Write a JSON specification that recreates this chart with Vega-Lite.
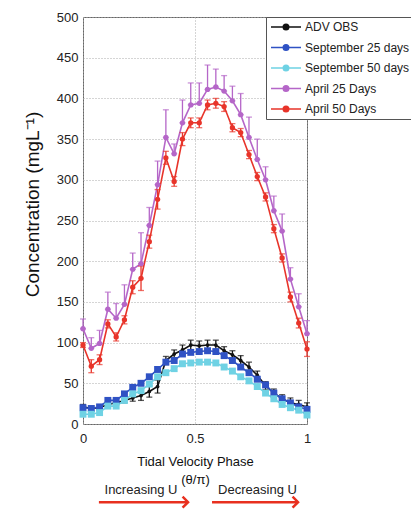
{
  "$schema": "https://vega.github.io/schema/vega-lite/v6.json",
  "width": 224,
  "height": 407,
  "autosize": {"type": "none"},
  "padding": {"left": 83, "top": 17, "right": 104, "bottom": 85},
  "background": "white",
  "config": {
    "font": "Liberation Sans",
    "view": {"stroke": "#666", "strokeWidth": 1},
    "axis": {
      "grid": true, "gridDash": [1, 2], "gridColor": "#aaa", "gridWidth": 1,
      "domain": false, "ticks": false,
      "labelFontSize": 13, "labelColor": "#222",
      "titleFontWeight": "normal", "titleColor": "#111"
    }
  },
  "data": {"values": [
    {"p":0,"s":"ADV OBS","c":21,"lo":18,"hi":24},
    {"p":0.037,"s":"ADV OBS","c":19,"lo":16,"hi":22},
    {"p":0.074,"s":"ADV OBS","c":20,"lo":17,"hi":23},
    {"p":0.111,"s":"ADV OBS","c":24,"lo":21,"hi":27},
    {"p":0.148,"s":"ADV OBS","c":26,"lo":23,"hi":29},
    {"p":0.185,"s":"ADV OBS","c":29,"lo":26,"hi":32},
    {"p":0.222,"s":"ADV OBS","c":32,"lo":28,"hi":36},
    {"p":0.259,"s":"ADV OBS","c":35,"lo":29,"hi":41},
    {"p":0.296,"s":"ADV OBS","c":40,"lo":33,"hi":47},
    {"p":0.333,"s":"ADV OBS","c":46,"lo":38,"hi":54},
    {"p":0.370,"s":"ADV OBS","c":78,"lo":73,"hi":83},
    {"p":0.407,"s":"ADV OBS","c":86,"lo":81,"hi":91},
    {"p":0.444,"s":"ADV OBS","c":91,"lo":85,"hi":97},
    {"p":0.481,"s":"ADV OBS","c":97,"lo":91,"hi":103},
    {"p":0.519,"s":"ADV OBS","c":96,"lo":90,"hi":102},
    {"p":0.556,"s":"ADV OBS","c":97,"lo":91,"hi":103},
    {"p":0.593,"s":"ADV OBS","c":97,"lo":91,"hi":103},
    {"p":0.630,"s":"ADV OBS","c":90,"lo":85,"hi":95},
    {"p":0.667,"s":"ADV OBS","c":85,"lo":80,"hi":90},
    {"p":0.704,"s":"ADV OBS","c":78,"lo":72,"hi":84},
    {"p":0.741,"s":"ADV OBS","c":70,"lo":64,"hi":76},
    {"p":0.778,"s":"ADV OBS","c":60,"lo":55,"hi":65},
    {"p":0.815,"s":"ADV OBS","c":47,"lo":42,"hi":52},
    {"p":0.852,"s":"ADV OBS","c":38,"lo":33,"hi":43},
    {"p":0.889,"s":"ADV OBS","c":31,"lo":26,"hi":36},
    {"p":0.926,"s":"ADV OBS","c":26,"lo":20,"hi":32},
    {"p":0.963,"s":"ADV OBS","c":24,"lo":19,"hi":29},
    {"p":1,"s":"ADV OBS","c":21,"lo":16,"hi":26},
    {"p":0,"s":"September 25 days","c":20},
    {"p":0.037,"s":"September 25 days","c":19},
    {"p":0.074,"s":"September 25 days","c":21},
    {"p":0.111,"s":"September 25 days","c":29},
    {"p":0.148,"s":"September 25 days","c":29},
    {"p":0.185,"s":"September 25 days","c":37},
    {"p":0.222,"s":"September 25 days","c":45},
    {"p":0.259,"s":"September 25 days","c":50},
    {"p":0.296,"s":"September 25 days","c":58},
    {"p":0.333,"s":"September 25 days","c":67},
    {"p":0.370,"s":"September 25 days","c":76},
    {"p":0.407,"s":"September 25 days","c":78},
    {"p":0.444,"s":"September 25 days","c":86},
    {"p":0.481,"s":"September 25 days","c":88},
    {"p":0.519,"s":"September 25 days","c":89},
    {"p":0.556,"s":"September 25 days","c":90},
    {"p":0.593,"s":"September 25 days","c":89},
    {"p":0.630,"s":"September 25 days","c":84},
    {"p":0.667,"s":"September 25 days","c":78},
    {"p":0.704,"s":"September 25 days","c":70},
    {"p":0.741,"s":"September 25 days","c":63},
    {"p":0.778,"s":"September 25 days","c":55},
    {"p":0.815,"s":"September 25 days","c":48},
    {"p":0.852,"s":"September 25 days","c":38},
    {"p":0.889,"s":"September 25 days","c":31},
    {"p":0.926,"s":"September 25 days","c":26},
    {"p":0.963,"s":"September 25 days","c":21},
    {"p":1,"s":"September 25 days","c":18},
    {"p":0,"s":"September 50 days","c":12},
    {"p":0.037,"s":"September 50 days","c":12},
    {"p":0.074,"s":"September 50 days","c":14},
    {"p":0.111,"s":"September 50 days","c":22},
    {"p":0.148,"s":"September 50 days","c":22},
    {"p":0.185,"s":"September 50 days","c":29},
    {"p":0.222,"s":"September 50 days","c":37},
    {"p":0.259,"s":"September 50 days","c":41},
    {"p":0.296,"s":"September 50 days","c":49},
    {"p":0.333,"s":"September 50 days","c":58},
    {"p":0.370,"s":"September 50 days","c":63},
    {"p":0.407,"s":"September 50 days","c":68},
    {"p":0.444,"s":"September 50 days","c":74},
    {"p":0.481,"s":"September 50 days","c":75},
    {"p":0.519,"s":"September 50 days","c":76},
    {"p":0.556,"s":"September 50 days","c":76},
    {"p":0.593,"s":"September 50 days","c":75},
    {"p":0.630,"s":"September 50 days","c":70},
    {"p":0.667,"s":"September 50 days","c":65},
    {"p":0.704,"s":"September 50 days","c":58},
    {"p":0.741,"s":"September 50 days","c":53},
    {"p":0.778,"s":"September 50 days","c":46},
    {"p":0.815,"s":"September 50 days","c":38},
    {"p":0.852,"s":"September 50 days","c":31},
    {"p":0.889,"s":"September 50 days","c":24},
    {"p":0.926,"s":"September 50 days","c":20},
    {"p":0.963,"s":"September 50 days","c":17},
    {"p":1,"s":"September 50 days","c":11},
    {"p":0,"s":"April 25 Days","c":117,"lo":117,"hi":129},
    {"p":0.037,"s":"April 25 Days","c":93,"lo":93,"hi":106},
    {"p":0.074,"s":"April 25 Days","c":99,"lo":99,"hi":115},
    {"p":0.111,"s":"April 25 Days","c":141,"lo":141,"hi":162},
    {"p":0.148,"s":"April 25 Days","c":130,"lo":130,"hi":148},
    {"p":0.185,"s":"April 25 Days","c":147,"lo":147,"hi":171},
    {"p":0.222,"s":"April 25 Days","c":190,"lo":190,"hi":210},
    {"p":0.259,"s":"April 25 Days","c":197,"lo":197,"hi":235},
    {"p":0.296,"s":"April 25 Days","c":244,"lo":244,"hi":266},
    {"p":0.333,"s":"April 25 Days","c":294,"lo":294,"hi":323},
    {"p":0.370,"s":"April 25 Days","c":352,"lo":352,"hi":386},
    {"p":0.407,"s":"April 25 Days","c":332,"lo":332,"hi":344},
    {"p":0.444,"s":"April 25 Days","c":370,"lo":370,"hi":398},
    {"p":0.481,"s":"April 25 Days","c":392,"lo":392,"hi":419},
    {"p":0.519,"s":"April 25 Days","c":394,"lo":394,"hi":419},
    {"p":0.556,"s":"April 25 Days","c":411,"lo":411,"hi":441},
    {"p":0.593,"s":"April 25 Days","c":414,"lo":414,"hi":436},
    {"p":0.630,"s":"April 25 Days","c":409,"lo":409,"hi":428},
    {"p":0.667,"s":"April 25 Days","c":397,"lo":397,"hi":415},
    {"p":0.704,"s":"April 25 Days","c":380,"lo":380,"hi":406},
    {"p":0.741,"s":"April 25 Days","c":352,"lo":352,"hi":377},
    {"p":0.778,"s":"April 25 Days","c":325,"lo":325,"hi":350},
    {"p":0.815,"s":"April 25 Days","c":300,"lo":300,"hi":316},
    {"p":0.852,"s":"April 25 Days","c":262,"lo":262,"hi":280},
    {"p":0.889,"s":"April 25 Days","c":237,"lo":237,"hi":258},
    {"p":0.926,"s":"April 25 Days","c":178,"lo":178,"hi":192},
    {"p":0.963,"s":"April 25 Days","c":144,"lo":144,"hi":160},
    {"p":1,"s":"April 25 Days","c":111,"lo":111,"hi":127},
    {"p":0,"s":"April 50 Days","c":97,"lo":94,"hi":100},
    {"p":0.037,"s":"April 50 Days","c":71,"lo":63,"hi":79},
    {"p":0.074,"s":"April 50 Days","c":79,"lo":73,"hi":85},
    {"p":0.111,"s":"April 50 Days","c":123,"lo":118,"hi":128},
    {"p":0.148,"s":"April 50 Days","c":107,"lo":102,"hi":112},
    {"p":0.185,"s":"April 50 Days","c":128,"lo":123,"hi":133},
    {"p":0.222,"s":"April 50 Days","c":168,"lo":160,"hi":176},
    {"p":0.259,"s":"April 50 Days","c":179,"lo":164,"hi":194},
    {"p":0.296,"s":"April 50 Days","c":224,"lo":216,"hi":232},
    {"p":0.333,"s":"April 50 Days","c":276,"lo":264,"hi":288},
    {"p":0.370,"s":"April 50 Days","c":327,"lo":319,"hi":335},
    {"p":0.407,"s":"April 50 Days","c":298,"lo":292,"hi":304},
    {"p":0.444,"s":"April 50 Days","c":350,"lo":342,"hi":358},
    {"p":0.481,"s":"April 50 Days","c":370,"lo":364,"hi":376},
    {"p":0.519,"s":"April 50 Days","c":370,"lo":364,"hi":376},
    {"p":0.556,"s":"April 50 Days","c":392,"lo":386,"hi":398},
    {"p":0.593,"s":"April 50 Days","c":394,"lo":388,"hi":400},
    {"p":0.630,"s":"April 50 Days","c":390,"lo":384,"hi":396},
    {"p":0.667,"s":"April 50 Days","c":364,"lo":359,"hi":369},
    {"p":0.704,"s":"April 50 Days","c":358,"lo":353,"hi":363},
    {"p":0.741,"s":"April 50 Days","c":331,"lo":326,"hi":336},
    {"p":0.778,"s":"April 50 Days","c":304,"lo":299,"hi":309},
    {"p":0.815,"s":"April 50 Days","c":279,"lo":274,"hi":284},
    {"p":0.852,"s":"April 50 Days","c":240,"lo":235,"hi":245},
    {"p":0.889,"s":"April 50 Days","c":204,"lo":199,"hi":209},
    {"p":0.926,"s":"April 50 Days","c":156,"lo":150,"hi":162},
    {"p":0.963,"s":"April 50 Days","c":124,"lo":118,"hi":130},
    {"p":1,"s":"April 50 Days","c":92,"lo":83,"hi":101}
  ]},
  "layer": [
    {
      "mark": {"type": "line", "strokeWidth": 1.6},
      "encoding": {
        "x": {"field": "p", "type": "quantitative",
              "scale": {"domain": [0, 1], "nice": false, "zero": false},
              "axis": {"values": [0, 0.5, 1], "format": "~g", "labelPadding": 8, "labelFlush": false,
                       "titleFontSize": 13, "titlePadding": 10, "titleLineHeight": 18},
              "title": ["Tidal Velocity Phase", "(θ/π)"]},
        "y": {"field": "c", "type": "quantitative",
              "scale": {"domain": [0, 500], "nice": false},
              "axis": {"values": [0, 50, 100, 150, 200, 250, 300, 350, 400, 450, 500],
                       "labelPadding": 5, "titleFontSize": 19, "titlePadding": 14, "titleY": 187},
              "title": "Concentration (mgL⁻¹)"},
        "color": {"field": "s", "type": "nominal",
                  "scale": {"domain": ["ADV OBS", "September 25 days", "September 50 days", "April 25 Days", "April 50 Days"],
                            "range": ["#111111", "#2f52c4", "#6fd2e4", "#b566c8", "#e8342a"]},
                  "legend": {"title": null, "orient": "none", "legendX": 183, "legendY": 0,
                             "symbolType": "M-1,0L5,0M1.45,0A0.55,0.55,0,1,1,2.55,0A0.55,0.55,0,1,1,1.45,0",
                             "symbolSize": 100, "symbolStrokeWidth": 1.5,
                             "labelFontSize": 12, "labelColor": "#222", "labelOffset": 23, "labelLimit": 300,
                             "fillColor": "white", "strokeColor": "#555", "padding": 4, "rowPadding": 8.5,
                             "encode": {"symbols": {"update": {
                               "fill": {"scale": "color", "field": "value"},
                               "stroke": {"scale": "color", "field": "value"},
                               "opacity": {"value": 1}}}}}}
      }
    },
    {
      "transform": [{"filter": "isValid(datum.lo)"}],
      "mark": {"type": "rule", "strokeWidth": 1.3},
      "encoding": {
        "x": {"field": "p", "type": "quantitative"},
        "y": {"field": "lo", "type": "quantitative"},
        "y2": {"field": "hi"},
        "color": {"field": "s", "type": "nominal", "legend": null}
      }
    },
    {
      "transform": [{"filter": "isValid(datum.lo)"}],
      "mark": {"type": "tick", "orient": "horizontal", "size": 6, "thickness": 1.3},
      "encoding": {
        "x": {"field": "p", "type": "quantitative"},
        "y": {"field": "hi", "type": "quantitative"},
        "color": {"field": "s", "type": "nominal", "legend": null}
      }
    },
    {
      "transform": [{"filter": "isValid(datum.lo)"}],
      "mark": {"type": "tick", "orient": "horizontal", "size": 6, "thickness": 1.3},
      "encoding": {
        "x": {"field": "p", "type": "quantitative"},
        "y": {"field": "lo", "type": "quantitative"},
        "color": {"field": "s", "type": "nominal", "legend": null}
      }
    },
    {
      "transform": [{"filter": "datum.s == 'ADV OBS'"}],
      "mark": {"type": "circle", "size": 14, "opacity": 1},
      "encoding": {
        "x": {"field": "p", "type": "quantitative"},
        "y": {"field": "c", "type": "quantitative"},
        "color": {"field": "s", "type": "nominal", "legend": null}
      }
    },
    {
      "transform": [{"filter": "indexof(datum.s, 'September') == 0"}],
      "mark": {"type": "square", "size": 48, "opacity": 1},
      "encoding": {
        "x": {"field": "p", "type": "quantitative"},
        "y": {"field": "c", "type": "quantitative"},
        "color": {"field": "s", "type": "nominal", "legend": null}
      }
    },
    {
      "transform": [{"filter": "indexof(datum.s, 'April') == 0"}],
      "mark": {"type": "circle", "size": 28, "opacity": 1},
      "encoding": {
        "x": {"field": "p", "type": "quantitative"},
        "y": {"field": "c", "type": "quantitative"},
        "color": {"field": "s", "type": "nominal", "legend": null}
      }
    },
    {
      "data": {"values": [
        {"p": 0.259, "y": -81, "t": "Increasing  U"},
        {"p": 0.779, "y": -81, "t": "Decreasing U"}
      ]},
      "mark": {"type": "text", "fontSize": 13, "color": "#222", "align": "center", "baseline": "middle"},
      "encoding": {
        "x": {"field": "p", "type": "quantitative"},
        "y": {"field": "y", "type": "quantitative"},
        "text": {"field": "t"}
      }
    },
    {
      "data": {"values": [
        {"p": 0.071, "p2": 0.469, "y": -96},
        {"p": 0.576, "p2": 0.96, "y": -96}
      ]},
      "mark": {"type": "rule", "color": "#e8301f", "strokeWidth": 2.5},
      "encoding": {
        "x": {"field": "p", "type": "quantitative"},
        "x2": {"field": "p2"},
        "y": {"field": "y", "type": "quantitative"}
      }
    },
    {
      "data": {"values": [
        {"p2": 0.469, "y": -96},
        {"p2": 0.96, "y": -96}
      ]},
      "mark": {"type": "point", "shape": "M-1,-1L0,0L-1,1", "filled": false, "color": "#e8301f", "strokeWidth": 2.5, "size": 120, "opacity": 1},
      "encoding": {
        "x": {"field": "p2", "type": "quantitative"},
        "y": {"field": "y", "type": "quantitative"}
      }
    }
  ]
}
